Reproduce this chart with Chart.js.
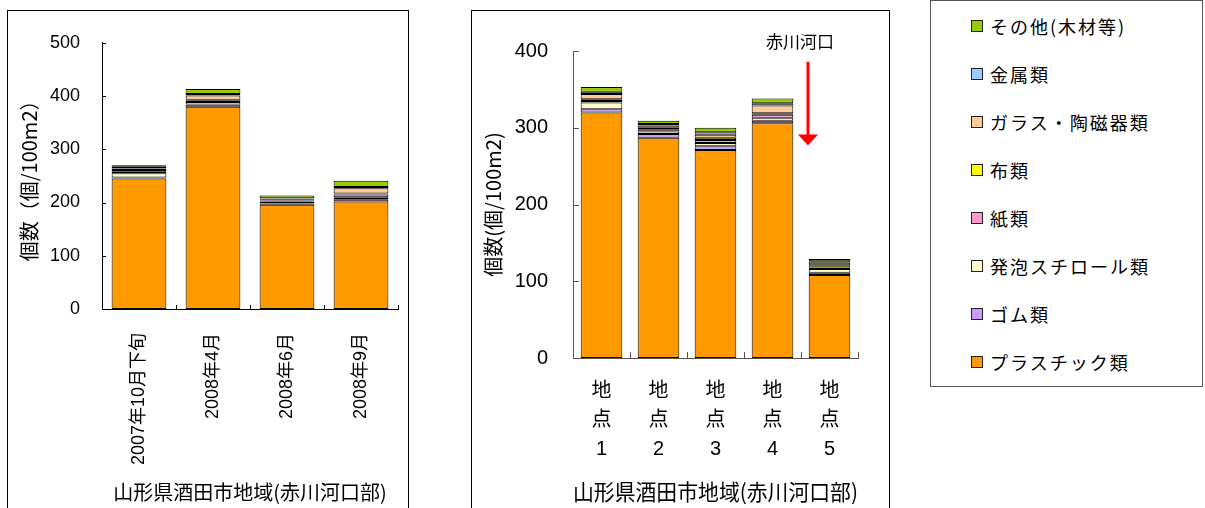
<!DOCTYPE html>
<html>
<head>
<meta charset="utf-8">
<script src="https://cdn.jsdelivr.net/npm/chart.js@4.4.1/dist/chart.umd.min.js"></script>
<style>
  html, body { margin: 0; padding: 0; background: #fff; }
  body { width: 1205px; height: 508px; overflow: hidden; position: relative;
         font-family: "Liberation Sans", "Noto Sans CJK JP", sans-serif; }
  .frame { position: absolute; border: 1px solid #000; box-sizing: border-box; }
  canvas { position: absolute; }
  #legend { position: absolute; left: 930px; top: 0px; width: 273px; height: 387px;
            border: 1px solid #555; box-sizing: border-box; padding-top: 1px; }
  .item { height: 48px; display: flex; align-items: center; padding-left: 40px;
          font-family: "Noto Sans CJK JP", sans-serif; font-size: 18px; letter-spacing: 2px; color: #000; }
  .sw { width: 12px; height: 12px; box-sizing: border-box; border: 1px solid #222; margin-right: 7px; flex: none; }
</style>
</head>
<body>
<div class="frame" style="left:7px;top:10px;width:402px;height:520px"></div>
<div class="frame" style="left:471px;top:10px;width:419px;height:520px"></div>
<canvas id="c1" width="400" height="498" style="left:8px;top:10px"></canvas>
<canvas id="c2" width="418" height="498" style="left:471px;top:10px"></canvas>
<div id="legend"></div>
<script>
// ---------- data ----------
const seriesNames = ['プラスチック類', 'ゴム類', '発泡スチロール類', '紙類', '布類', 'ガラス・陶磁器類', '金属類', 'その他(木材等)'];
const seriesColors = ['#ff9900', '#cc99ff', '#ffffcc', '#ff99cc', '#ffff00', '#ffcc99', '#99ccff', '#99cc00'];

// left chart: survey periods
const periodLabels = ['2007年10月下旬', '2008年4月', '2008年6月', '2008年9月'];
const periodPlastic   = [245, 380, 196, 202];
const periodRubber    = [2, 4, 2, 4];
const periodStyrofoam = [8, 5, 4, 4];
const periodPaper     = [3, 2, 2, 5];
const periodCloth     = [3, 2, 1, 2];
const periodGlass     = [3, 8, 2, 10];
const periodMetal     = [3, 3, 1, 2];
const periodOther     = [3, 9, 5, 12];

// right chart: sites
const siteLabels = [['地', '点', '1'], ['地', '点', '2'], ['地', '点', '3'], ['地', '点', '4'], ['地', '点', '5']];
const sitePlastic   = [320, 287, 271, 306, 108];
const siteRubber    = [4, 5, 5, 3, 3];
const siteStyrofoam = [9, 3, 4, 4, 5];
const sitePaper     = [2, 3, 4, 4, 2];
const siteCloth     = [2, 2, 3, 2, 3];
const siteGlass     = [7, 3, 4, 10, 3];
const siteMetal     = [3, 2, 3, 3, 2];
const siteOther     = [6, 4, 6, 6, 3];

const leftTicks = [0, 100, 200, 300, 400, 500];
const rightTicks = [0, 100, 200, 300, 400];

const periodSeries = [periodPlastic, periodRubber, periodStyrofoam, periodPaper, periodCloth, periodGlass, periodMetal, periodOther];
const siteSeries = [sitePlastic, siteRubber, siteStyrofoam, sitePaper, siteCloth, siteGlass, siteMetal, siteOther];

const riverMouthNote = { label: '赤川河口', index: 3.62, labelValue: 412, arrowFrom: 386, arrowTo: 277 };

// ---------- helpers ----------
const FONT = '"Liberation Sans", "Noto Sans CJK JP", sans-serif';
Chart.defaults.font.family = FONT;
Chart.defaults.color = '#000';

function makeDatasets(series, pct) {
  return series.map((vals, i) => ({
    label: seriesNames[i],
    data: vals,
    backgroundColor: seriesColors[i],
    borderColor: '#000',
    borderWidth: 1,
    borderSkipped: false,
    barPercentage: pct,
    categoryPercentage: 1.0
  }));
}

const innerTicks = {
  id: 'innerTicks',
  afterDatasetsDraw(chart, args, opts) {
    const { ctx, chartArea, scales: { x, y } } = chart;
    ctx.save();
    ctx.strokeStyle = opts.color;
    ctx.lineWidth = 1;
    ctx.beginPath();
    y.ticks.forEach(t => {
      const py = Math.round(y.getPixelForValue(t.value)) + 0.5;
      ctx.moveTo(chartArea.left, py);
      ctx.lineTo(chartArea.left + opts.len, py);
    });
    for (let i = 0; i <= x.ticks.length; i++) {
      const px = Math.round(x.getPixelForValue(i - 0.5)) + 0.5;
      ctx.moveTo(px, chartArea.bottom);
      ctx.lineTo(px, chartArea.bottom - opts.len);
    }
    ctx.stroke();
    ctx.restore();
  }
};

const riverArrow = {
  id: 'riverArrow',
  afterDraw(chart) {
    const { ctx, scales: { x, y } } = chart;
    const px = Math.round(x.getPixelForValue(riverMouthNote.index));
    const yFrom = y.getPixelForValue(riverMouthNote.arrowFrom);
    const yTo = y.getPixelForValue(riverMouthNote.arrowTo);
    ctx.save();
    ctx.fillStyle = '#000';
    ctx.font = '17px "Noto Sans CJK JP", sans-serif';
    ctx.textAlign = 'center';
    ctx.textBaseline = 'middle';
    ctx.fillText(riverMouthNote.label, px - 8, y.getPixelForValue(riverMouthNote.labelValue));
    ctx.strokeStyle = '#ff0000';
    ctx.lineWidth = 3;
    ctx.beginPath();
    ctx.moveTo(px, yFrom);
    ctx.lineTo(px, yTo - 10);
    ctx.stroke();
    ctx.fillStyle = '#ff0000';
    ctx.beginPath();
    ctx.moveTo(px - 10, yTo - 11);
    ctx.lineTo(px + 10, yTo - 11);
    ctx.lineTo(px, yTo);
    ctx.closePath();
    ctx.fill();
    ctx.restore();
  }
};

// ---------- left chart ----------
new Chart(document.getElementById('c1'), {
  type: 'bar',
  data: { labels: periodLabels, datasets: makeDatasets(periodSeries, 0.74) },
  options: {
    responsive: false,
    animation: false,
    layout: { padding: { top: 27, right: 10, left: 0, bottom: 0 } },
    plugins: { legend: { display: false }, tooltip: { enabled: false }, innerTicks: { len: 4, color: '#000' } },
    scales: {
      x: {
        stacked: true,
        grid: { display: false, drawTicks: false },
        border: { display: true, color: '#000', width: 1 },
        ticks: { minRotation: 90, maxRotation: 90, padding: 24, font: { size: 18 }, color: '#000', autoSkip: false },
        title: { display: true, text: '山形県酒田市地域(赤川河口部)', font: { size: 20, family: '"Noto Sans CJK JP", sans-serif' }, color: '#000', padding: { top: 0, bottom: 4 } },
        afterFit: s => { s.height = 199; }
      },
      y: {
        stacked: true, min: leftTicks[0], max: leftTicks[leftTicks.length - 1],
        afterBuildTicks: s => { s.ticks = leftTicks.map(v => ({ value: v })); },
        grid: { display: false, drawTicks: false },
        border: { display: true, color: '#000', width: 1 },
        ticks: { padding: 22, font: { size: 18 }, color: '#000' },
        title: { display: true, text: '個数（個/100m2）', font: { size: 20, family: '"Noto Sans CJK JP", sans-serif' }, color: '#000', padding: { top: 9, bottom: 0 } },
        afterFit: s => { s.width = 94; }
      }
    }
  },
  plugins: [innerTicks]
});

// ---------- right chart ----------
new Chart(document.getElementById('c2'), {
  type: 'bar',
  data: { labels: siteLabels, datasets: makeDatasets(siteSeries, 0.73) },
  options: {
    responsive: false,
    animation: false,
    layout: { padding: { top: 41, right: 31, left: 0, bottom: 0 } },
    plugins: { legend: { display: false }, tooltip: { enabled: false }, innerTicks: { len: 6, color: '#555' } },
    scales: {
      x: {
        stacked: true,
        grid: { display: false, drawTicks: false },
        border: { display: true, color: '#555', width: 1 },
        ticks: { maxRotation: 0, minRotation: 0, padding: 18.5, font: { size: 20, lineHeight: 1.45 }, color: '#000', autoSkip: false },
        title: { display: true, text: '山形県酒田市地域(赤川河口部)', font: { size: 22, family: '"Noto Sans CJK JP", sans-serif' }, color: '#000', padding: { top: 0, bottom: 3 } },
        afterFit: s => { s.height = 150; }
      },
      y: {
        stacked: true, min: rightTicks[0], max: rightTicks[rightTicks.length - 1],
        afterBuildTicks: s => { s.ticks = rightTicks.map(v => ({ value: v })); },
        grid: { display: false, drawTicks: false },
        border: { display: true, color: '#555', width: 1 },
        ticks: { padding: 25, font: { size: 20 }, color: '#000' },
        title: { display: true, text: '個数(個/100m2)', font: { size: 20, family: '"Noto Sans CJK JP", sans-serif' }, color: '#000', padding: { top: 10, bottom: 0 } },
        afterFit: s => { s.width = 102; }
      }
    }
  },
  plugins: [innerTicks, riverArrow]
});

// ---------- legend (reverse stacking order) ----------
const legendEl = document.getElementById('legend');
for (let i = seriesNames.length - 1; i >= 0; i--) {
  const row = document.createElement('div');
  row.className = 'item';
  const sw = document.createElement('span');
  sw.className = 'sw';
  sw.style.background = seriesColors[i];
  const tx = document.createElement('span');
  tx.textContent = seriesNames[i];
  row.appendChild(sw);
  row.appendChild(tx);
  legendEl.appendChild(row);
}
</script>
</body>
</html>
